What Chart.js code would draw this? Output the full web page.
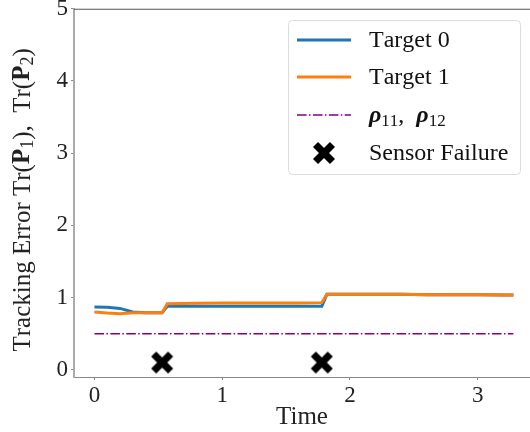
<!DOCTYPE html>
<html>
<head>
<meta charset="utf-8">
<script src="https://cdn.jsdelivr.net/npm/chart.js@4.4.0/dist/chart.umd.min.js"></script>
<style>
  html, body { margin: 0; padding: 0; overflow: hidden; background: #fff; }
  canvas { display: block; }
</style>
</head>
<body>
<canvas id="chart" width="530" height="432"></canvas>
<script>
// values
var time = [0, 0.1, 0.2, 0.3, 0.4, 0.53, 0.57, 0.8, 1.0, 1.2, 1.4, 1.6, 1.78, 1.82, 2.0, 2.2, 2.4, 2.6, 2.8, 3.0, 3.2, 3.28];
var target0 = [0.87, 0.865, 0.85, 0.80, 0.79, 0.79, 0.88, 0.88, 0.88, 0.88, 0.88, 0.88, 0.88, 1.045, 1.045, 1.045, 1.045, 1.04, 1.04, 1.04, 1.035, 1.035];
var target1 = [0.80, 0.785, 0.775, 0.79, 0.79, 0.79, 0.915, 0.92, 0.925, 0.925, 0.925, 0.925, 0.93, 1.045, 1.045, 1.045, 1.045, 1.04, 1.04, 1.04, 1.035, 1.035];
var rhoTime = [0, 3.28];
var rhoValue = [0.5, 0.5];
var failureTime = [0.53, 1.78];
var failureValue = [0.1, 0.1];
var xTicks = [0, 1, 2, 3];
var yTicks = [0, 1, 2, 3, 4, 5];
var labels = ["Target 0", "Target 1", "\u03c1\u2081\u2081,  \u03c1\u2081\u2082", "Sensor Failure"];
var yTitle = "Tracking Error Tr(P\u2081),  Tr(P\u2082)";
var xTitle = "Time";

var SERIF = "'Liberation Serif', 'DejaVu Serif', serif";
var SUBS = "\u2080\u2081\u2082\u2083\u2084\u2085\u2086\u2087\u2088\u2089";

function pts(xs, ys) {
  return xs.map(function (x, i) { return { x: x, y: ys[i] }; });
}

// split a label into runs: subscript digits small and lowered,
// greek bold italic, a letter with a subscript bold (matrix)
function runs(text, size) {
  var out = [];
  for (var i = 0; i < text.length; i++) {
    var ch = text[i];
    var si = SUBS.indexOf(ch);
    if (si >= 0) {
      out.push({ t: String(si), font: Math.round(size * 0.7) + 'px ' + SERIF, dy: size * 0.22 });
    } else if (ch === '\u03c1') {
      out.push({ t: ch, font: 'italic bold ' + size + 'px ' + SERIF, dy: 0 });
    } else if (SUBS.indexOf(text[i + 1]) >= 0) {
      out.push({ t: ch, font: 'bold ' + size + 'px ' + SERIF, dy: 0 });
    } else {
      out.push({ t: ch, font: size + 'px ' + SERIF, dy: 0 });
    }
  }
  return out;
}

function richWidth(ctx, parts) {
  var w = 0;
  parts.forEach(function (p) { ctx.font = p.font; w += ctx.measureText(p.t).width; });
  return w;
}

function drawRich(ctx, text, size, x, y, center) {
  var parts = runs(text, size);
  var cx = center ? x - richWidth(ctx, parts) / 2 : x;
  ctx.textAlign = 'left';
  ctx.textBaseline = 'middle';
  parts.forEach(function (p) {
    ctx.font = p.font;
    ctx.fillText(p.t, cx, y + p.dy);
    cx += ctx.measureText(p.t).width;
  });
}

// filled "X" marker like matplotlib's
var xMark = document.createElement('canvas');
xMark.width = 24; xMark.height = 24;
(function () {
  var c = xMark.getContext('2d');
  c.fillStyle = '#000';
  c.translate(12, 12);
  c.rotate(Math.PI / 4);
  c.fillRect(-12, -3.6, 24, 7.2);
  c.rotate(Math.PI / 2);
  c.fillRect(-12, -3.6, 24, 7.2);
})();

var boxLegend = {
  id: 'boxLegend',
  afterDraw: function (chart) {
    var ctx = chart.ctx;
    var area = chart.chartArea;
    ctx.save();
    // top spine
    ctx.strokeStyle = '#555';
    ctx.lineWidth = 1;
    ctx.beginPath();
    ctx.moveTo(area.left, area.top + 0.5);
    ctx.lineTo(chart.width, area.top + 0.5);
    ctx.stroke();

    // y axis title
    ctx.fillStyle = '#222';
    ctx.save();
    ctx.translate(23, (area.top + area.bottom) / 2 + 7);
    ctx.rotate(-Math.PI / 2);
    drawRich(ctx, yTitle, 25, 0, 0, true);
    ctx.restore();

    var bx = 288, by = 20, bw = 232, bh = 154, r = 4;
    ctx.fillStyle = 'rgba(255,255,255,0.85)';
    ctx.strokeStyle = '#dcdcdc';
    ctx.lineWidth = 1;
    ctx.beginPath();
    ctx.roundRect(bx + 0.5, by + 0.5, bw, bh, r);
    ctx.fill();
    ctx.stroke();

    var rows = [40, 77, 115, 153];
    chart.data.datasets.forEach(function (ds, i) {
      var y = rows[i];
      if (ds.showLine === false) {
        ctx.drawImage(xMark, 324 - 12, y - 12);
      } else {
        ctx.strokeStyle = ds.borderColor;
        ctx.lineWidth = ds.borderWidth;
        ctx.setLineDash(ds.borderDash || []);
        ctx.beginPath();
        ctx.moveTo(297, y);
        ctx.lineTo(351, y);
        ctx.stroke();
        ctx.setLineDash([]);
      }
      ctx.fillStyle = '#111';
      drawRich(ctx, ds.label, 24, 369, y + 1, false);
    });
    ctx.restore();
  }
};

new Chart(document.getElementById('chart'), {
  type: 'scatter',
  data: {
    datasets: [
      { label: labels[0], data: pts(time, target0), showLine: true, borderColor: '#1f77b4', borderWidth: 3, pointRadius: 0, tension: 0, order: 3 },
      { label: labels[1], data: pts(time, target1), showLine: true, borderColor: '#ff7f0e', borderWidth: 3, pointRadius: 0, tension: 0, order: 2 },
      { label: labels[2], data: pts(rhoTime, rhoValue), showLine: true, borderColor: '#800080', borderWidth: 1.5, borderDash: [9.6, 2.4, 1.5, 2.4], pointRadius: 0, order: 1 },
      { label: labels[3], data: pts(failureTime, failureValue), showLine: false, pointStyle: xMark, pointRadius: 12, backgroundColor: '#000', borderColor: '#000', order: 0 }
    ]
  },
  options: {
    responsive: false,
    animation: false,
    layout: { autoPadding: false, padding: { top: 7, right: 0, left: 0, bottom: 0 } },
    plugins: { legend: { display: false }, tooltip: { enabled: false } },
    scales: {
      x: {
        type: 'linear', min: -0.16, max: 3.41,
        afterBuildTicks: function (s) { s.ticks = xTicks.map(function (v) { return { value: v }; }); },
        afterFit: function (s) { s.height = 55; },
        grid: { drawOnChartArea: false, tickLength: 3, tickColor: '#888' },
        border: { color: '#888', width: 1 },
        ticks: { color: '#222', padding: 2, font: { family: SERIF, size: 23 } },
        title: { display: true, text: xTitle, color: '#222', font: { family: SERIF, size: 25 }, padding: { top: 0, bottom: 0 } }
      },
      y: {
        type: 'linear', min: -0.1, max: 5,
        afterBuildTicks: function (s) { s.ticks = yTicks.map(function (v) { return { value: v }; }); },
        afterFit: function (s) { s.width = 74; },
        grid: { drawOnChartArea: false, tickLength: 3, tickColor: '#888' },
        border: { color: '#aaa', width: 2 },
        ticks: { color: '#222', padding: 3, font: { family: SERIF, size: 23, lineHeight: 0.5 } }
      }
    }
  },
  plugins: [boxLegend]
});
</script>
</body>
</html>
